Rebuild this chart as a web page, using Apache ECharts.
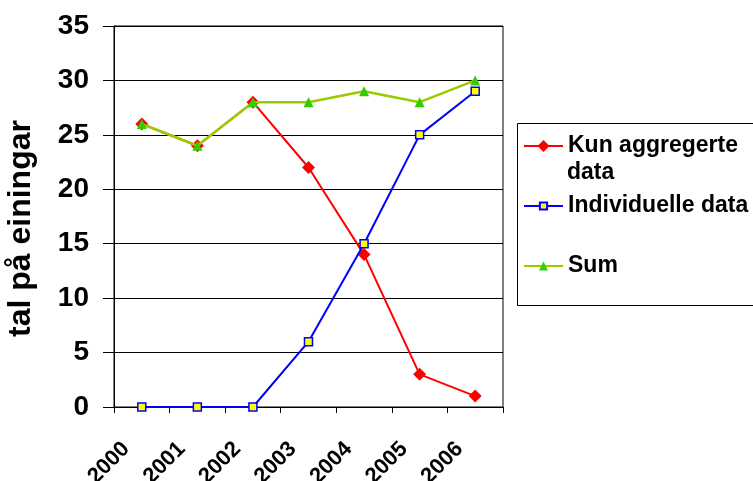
<!DOCTYPE html>
<html>
<head>
<meta charset="utf-8">
<script src="https://cdn.jsdelivr.net/npm/echarts@6/dist/echarts.min.js"></script>
<style>
  html, body { margin: 0; padding: 0; background: #fff; }
  #chart { width: 753px; height: 481px; }
</style>
</head>
<body>
<div id="chart"></div>
<script>
// Years on the category axis
const years = ['2000', '2001', '2002', '2003', '2004', '2005', '2006'];

// Number of units per year
const kunAggregerte = [26, 24, 28, 22, 14, 3, 1];
const individuelle = [0, 0, 0, 6, 15, 25, 29];
const sum = [26, 24, 28, 28, 29, 28, 30];

// Value axis ticks
const yMin = 0;
const yMax = 35;
const yStep = 5;

const FONT = '"Liberation Sans", Arial, sans-serif';

const chart = echarts.init(document.getElementById('chart'), null, { renderer: 'canvas' });

const legendText = {
  fontFamily: FONT,
  fontWeight: 'bold',
  fontSize: 23,
  color: '#000',
  lineHeight: 26
};

chart.setOption({
  animation: false,
  backgroundColor: '#fff',
  grid: {
    left: 114,
    right: 250,
    top: 26,
    bottom: 74,
    outerBoundsMode: 'none',
    containLabel: false,
    show: true,
    borderColor: '#000',
    borderWidth: 1,
    backgroundColor: 'transparent'
  },
  xAxis: {
    type: 'category',
    data: years,
    boundaryGap: true,
    axisLine: { lineStyle: { color: '#000', width: 1 } },
    axisTick: { show: true, length: 6, alignWithLabel: false, lineStyle: { color: '#000' } },
    axisLabel: {
      rotate: 45,
      margin: 23,
      padding: [0, 22, 0, 0],
      fontFamily: FONT,
      fontWeight: 'bold',
      fontSize: 22,
      color: '#000',
      interval: 0
    },
    splitLine: { show: false }
  },
  yAxis: {
    type: 'value',
    min: yMin,
    max: yMax,
    interval: yStep,
    name: 'tal på einingar',
    nameLocation: 'middle',
    nameRotate: 90,
    nameGap: 77,
    nameTextStyle: {
      fontFamily: FONT,
      fontWeight: 'bold',
      fontSize: 32,
      color: '#000',
      padding: [0, 24, 0, 0]
    },
    axisLine: { show: true, lineStyle: { color: '#000', width: 1 } },
    axisTick: { show: true, length: 11, lineStyle: { color: '#000' } },
    axisLabel: {
      margin: 25,
      fontFamily: FONT,
      fontWeight: 'bold',
      fontSize: 28,
      color: '#000'
    },
    splitLine: { show: true, lineStyle: { color: '#000', width: 1 } }
  },
  legend: [
    {
      data: ['Kun aggregerte data'],
      left: 523,
      top: 133,
      padding: 0,
      itemWidth: 39,
      itemHeight: 15,
      selectedMode: false,
      formatter: () => 'Kun aggregerte',
      textStyle: legendText
    },
    {
      data: ['Individuelle data'],
      left: 523,
      top: 193,
      padding: 0,
      itemWidth: 39,
      itemHeight: 9,
      selectedMode: false,
      textStyle: legendText
    },
    {
      data: ['Sum'],
      left: 523,
      top: 253,
      padding: 0,
      itemWidth: 39,
      itemHeight: 11,
      selectedMode: false,
      textStyle: legendText
    }
  ],
  graphic: [
    {
      type: 'rect',
      shape: { x: 517.5, y: 123.5, width: 260, height: 182 },
      style: { fill: 'none', stroke: '#000', lineWidth: 1 },
      z: 1
    },
    {
      // second line of the first legend entry
      type: 'text',
      left: 567,
      top: 161,
      style: {
        text: 'data',
        fontFamily: FONT,
        fontWeight: 'bold',
        fontSize: 23,
        fill: '#000'
      },
      z: 2
    }
  ],
  series: [
    {
      name: 'Kun aggregerte data',
      type: 'line',
      data: kunAggregerte,
      symbol: 'diamond',
      symbolSize: 13,
      lineStyle: { color: '#ff0000', width: 2 },
      itemStyle: { color: '#ff0000', borderColor: '#ff0000', borderWidth: 0 },
      z: 3
    },
    {
      name: 'Individuelle data',
      type: 'line',
      data: individuelle,
      symbol: 'rect',
      symbolSize: 8,
      lineStyle: { color: '#0000ff', width: 2 },
      itemStyle: { color: '#ffff00', borderColor: '#0000ff', borderWidth: 1.5 },
      z: 4
    },
    {
      name: 'Sum',
      type: 'line',
      data: sum,
      symbol: 'triangle',
      symbolSize: 10,
      lineStyle: { color: '#99cc00', width: 2.5 },
      itemStyle: { color: '#33cc00', borderWidth: 0 },
      z: 5
    }
  ]
});
</script>
</body>
</html>
